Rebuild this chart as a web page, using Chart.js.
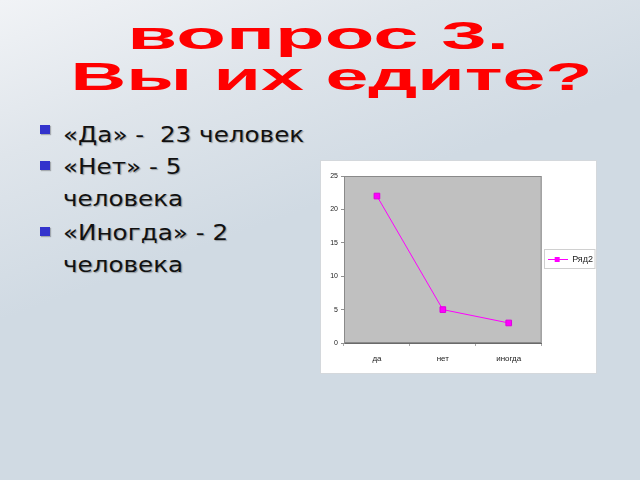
<!DOCTYPE html>
<html>
<head>
<meta charset="utf-8">
<script src="https://cdn.jsdelivr.net/npm/chart.js@4.4.1/dist/chart.umd.min.js"></script>
<style>
  html, body { margin: 0; padding: 0; }
  body {
    width: 640px; height: 480px; overflow: hidden; position: relative;
    background: linear-gradient(160deg, #f1f3f6 0%, #dfe5eb 22%, #d0dae3 45%, #d0dae3 100%);
    font-family: "DejaVu Sans", sans-serif;
  }
  .title {
    position: absolute; left: 0; width: 640px; text-align: center;
    font-family: "Liberation Sans", Arial, sans-serif; font-weight: bold;
    font-size: 38px; line-height: 38px; color: #ff0000; white-space: nowrap;
  }
  .title span { display: inline-block; }
  .line {
    position: absolute; left: 63px; font-size: 22px; line-height: 32px;
    color: #111; white-space: pre; text-shadow: 1px 1px 1px rgba(0,0,0,0.3);
    transform: scaleX(1.12); transform-origin: 0 0;
  }
  .bullet {
    position: absolute; left: 40px; width: 10px; height: 9px; background: #3333cc;
    box-shadow: 1px 1px 1px rgba(0,0,0,0.25);
  }
  #box {
    position: absolute; left: 320px; top: 160px; width: 277px; height: 214px;
    background: #ffffff; border: 1px solid #d4d8dc; box-sizing: border-box;
  }
</style>
</head>
<body>
<div class="title" style="top:17px"><span style="margin-left:-4px;transform:scaleX(2.14)">вопрос 3.</span></div>
<div class="title" style="top:58px"><span style="margin-left:24px;transform:scaleX(2.03)">Вы их едите?</span></div>

<div class="bullet" style="top:125px"></div>
<div class="line" style="top:119px">«Да» -  23 человек</div>
<div class="bullet" style="top:161px"></div>
<div class="line" style="top:151px">«Нет» - 5</div>
<div class="line" style="top:183px">человека</div>
<div class="bullet" style="top:227px"></div>
<div class="line" style="top:217px">«Иногда» - 2</div>
<div class="line" style="top:249px">человека</div>

<div id="box"><canvas id="myChart"></canvas></div>

<script>
const categories = ["да", "нет", "иногда"];
const seriesValues = [22, 5, 3];
const seriesName = "Ряд2";
const yTicks = [0, 5, 10, 15, 20, 25];

// legend sample: line with a square marker
const sample = document.createElement('canvas');
sample.width = 20; sample.height = 7;
const sctx = sample.getContext('2d');
sctx.strokeStyle = '#ff00ff'; sctx.lineWidth = 1;
sctx.beginPath(); sctx.moveTo(0, 3.5); sctx.lineTo(20, 3.5); sctx.stroke();
sctx.fillStyle = '#ff00ff'; sctx.fillRect(7, 1, 5, 5);

const plotArea = {
    id: 'plotArea',
    afterUpdate(chart) {
        // nudge the legend a little to the right, as in the original
        const lg = chart.legend;
        if (!lg) return;
        lg.left += 5; lg.right += 5;
    },
    beforeDraw(chart) {
        const a = chart.chartArea, ctx = chart.ctx;
        ctx.save();
        ctx.fillStyle = '#c0c0c0';
        ctx.fillRect(a.left, a.top, a.right - a.left, a.bottom - a.top);
        ctx.strokeStyle = '#8a8a8a'; ctx.lineWidth = 1;
        ctx.strokeRect(a.left + 0.5, a.top + 0.5, a.right - a.left - 1, a.bottom - a.top - 1);
        ctx.restore();
    },
    afterDraw(chart) {
        const lg = chart.legend, a = chart.chartArea, ctx = chart.ctx;
        if (!lg) return;
        const cy = Math.round((a.top + a.bottom) / 2);
        const x0 = Math.round(lg.left) - 2.5;
        ctx.save();
        ctx.strokeStyle = '#d0d0d0'; ctx.lineWidth = 1;
        ctx.strokeRect(x0, cy - 10.5, chart.width - 1 - x0, 19);
        ctx.restore();
    }
};

new Chart(document.getElementById('myChart'), {
    type: 'line',
    data: {
        labels: categories,
        datasets: [{
            label: seriesName,
            data: seriesValues,
            borderColor: '#ff00ff',
            borderWidth: 1,
            backgroundColor: '#ff00ff',
            pointStyle: 'rect',
            pointRadius: 4,
            pointBorderColor: '#dd00dd',
            pointBorderWidth: 1,
            tension: 0
        }]
    },
    options: {
        responsive: true,
        maintainAspectRatio: false,
        animation: false,
        layout: { padding: { top: 15, right: -2, bottom: 0, left: 0 } },
        plugins: {
            legend: {
                position: 'right',
                fullSize: false,
                labels: {
                    usePointStyle: true,
                    pointStyle: sample,
                    pointStyleWidth: 20,
                    boxHeight: 7,
                    padding: 1,
                    color: '#222',
                    font: { family: 'Liberation Sans', size: 9 }
                }
            },
            tooltip: { enabled: false }
        },
        scales: {
            x: {
                offset: true,
                afterFit: (s) => { s.height = 30; },
                grid: { offset: true, drawOnChartArea: false, tickLength: 3, color: '#a8a8a8' },
                border: { color: '#6a6a6a' },
                ticks: { color: '#222', padding: 8, font: { family: 'Liberation Sans', size: 8 } }
            },
            y: {
                min: 0, max: 25,
                afterFit: (s) => { s.width = 23; },
                afterBuildTicks: (s) => { s.ticks = yTicks.map(v => ({ value: v })); },
                grid: { drawOnChartArea: false, tickLength: 3, color: '#909090' },
                border: { color: '#8a8a8a' },
                ticks: { color: '#222', padding: 3, font: { family: 'Liberation Sans', size: 7 } }
            }
        }
    },
    plugins: [plotArea]
});
</script>
</body>
</html>
